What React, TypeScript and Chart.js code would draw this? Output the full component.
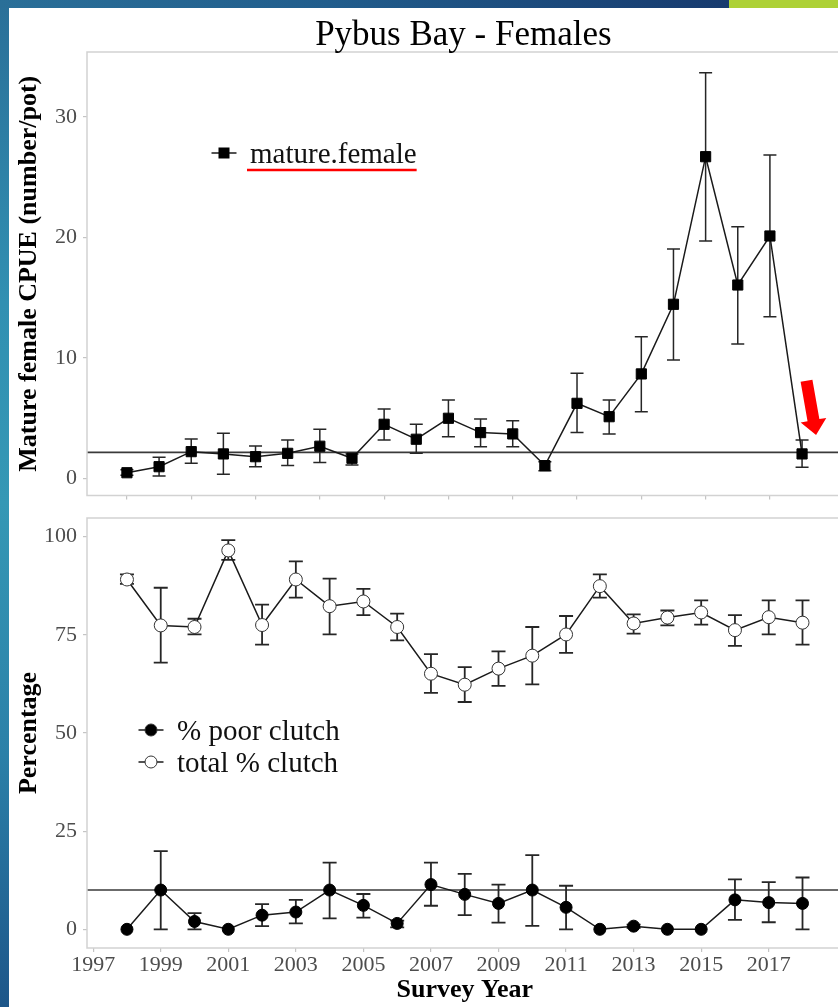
import React, { useEffect, useRef } from "react";
import { Chart, registerables } from "chart.js";

Chart.register(...registerables);

// ---------------- data ----------------
const femaleYears = [1997, 1998, 1999, 2000, 2001, 2002, 2003, 2004, 2005, 2006, 2007, 2008, 2009, 2010, 2011, 2012, 2013, 2014, 2015, 2016, 2017, 2018];
const femaleCPUE = [0.46, 0.96, 2.21, 2.02, 1.79, 2.07, 2.66, 1.66, 4.48, 3.24, 4.98, 3.79, 3.68, 1.05, 6.22, 5.11, 8.66, 14.44, 26.69, 16.04, 20.11, 2.02];
const femaleUpper = [0.7, 1.74, 3.26, 3.73, 2.68, 3.18, 4.07, 2.02, 5.75, 4.48, 6.5, 4.92, 4.78, 1.38, 8.71, 6.5, 11.75, 19.03, 33.66, 20.88, 26.83, 3.18];
const femaleLower = [0.25, 0.19, 1.24, 0.33, 0.96, 1.05, 1.3, 1.1, 3.18, 2.07, 3.45, 2.62, 2.62, 0.63, 3.79, 3.68, 5.53, 9.82, 19.69, 11.15, 13.41, 0.91];
const femaleReference = 2.15;

const clutchYears = [1998, 1999, 2000, 2001, 2002, 2003, 2004, 2005, 2006, 2007, 2008, 2009, 2010, 2011, 2012, 2013, 2014, 2015, 2016, 2017, 2018];
const totalClutch = [89.1, 77.4, 77.0, 96.5, 77.5, 89.1, 82.3, 83.5, 77.0, 65.1, 62.3, 66.4, 69.7, 75.1, 87.4, 77.9, 79.4, 80.7, 76.2, 79.5, 78.1];
const totalUpper = [90.4, 87.0, 79.1, 99.1, 82.7, 93.7, 89.3, 86.7, 80.4, 70.1, 66.8, 70.8, 77.0, 79.8, 90.4, 80.2, 81.2, 83.8, 80.0, 83.8, 83.8];
const totalLower = [88.0, 67.9, 75.1, 94.1, 72.5, 84.5, 75.1, 80.0, 73.6, 60.2, 57.9, 62.0, 62.4, 70.4, 84.5, 75.3, 77.4, 77.6, 72.2, 75.1, 72.5];
const poorClutch = [0, 10.0, 2.0, 0, 3.6, 4.4, 10.0, 6.1, 1.5, 11.4, 8.9, 6.6, 10.0, 5.6, 0, 0.8, 0, 0, 7.5, 6.8, 6.6];
const poorUpper = [0, 19.9, 4.1, 0, 6.4, 7.5, 17.0, 9.0, 2.2, 17.0, 14.1, 11.4, 18.9, 11.1, 0, 1.2, 0, 0, 12.7, 12.0, 13.2];
const poorLower = [0, 0, 0, 0, 0.8, 1.5, 2.8, 3.0, 0.5, 6.0, 3.6, 1.7, 0.9, 0, 0, 0.4, 0, 0, 2.4, 1.8, 0];
const clutchReference = 10;

const xTickYears = [1997, 1999, 2001, 2003, 2005, 2007, 2009, 2011, 2013, 2015, 2017];
const cpueTicks = [0, 10, 20, 30];
const percentTicks = [0, 25, 50, 75, 100];

const chartTitle = "Pybus Bay - Females";
const cpueAxisTitle = "Mature female CPUE (number/pot)";
const percentAxisTitle = "Percentage";
const xAxisTitle = "Survey Year";
const femaleLabel = "mature.female";
const poorLabel = "% poor clutch";
const totalLabel = "total % clutch";

// ---------------- styles ----------------
const FONT = "'Liberation Serif', 'Times New Roman', serif";
const TICK_COLOR = "#4d4d4d";
const TICK_MARK = "#c4c4c4";
const FRAME = "#d2d2d2";
const LINE = "#1a1a1a";

type ErrSet = { xs: number[]; upper: number[]; lower: number[] };

function errorBarPlugin(sets: ErrSet[], cap: number, width: number) {
  return {
    id: "errorBars",
    beforeDatasetsDraw(chart: any) {
      const { ctx, scales } = chart;
      const x = scales.x, y = scales.y;
      ctx.save();
      ctx.strokeStyle = "#262626";
      ctx.lineWidth = width;
      sets.forEach((s) => {
        s.xs.forEach((xv, i) => {
          const hi = s.upper[i], lo = s.lower[i];
          if (hi - lo < 1e-9) return;
          const px = x.getPixelForValue(xv);
          const pt = y.getPixelForValue(hi);
          const pb = y.getPixelForValue(lo);
          ctx.beginPath();
          ctx.moveTo(px, pt); ctx.lineTo(px, pb);
          ctx.moveTo(px - cap, pt); ctx.lineTo(px + cap, pt);
          ctx.moveTo(px - cap, pb); ctx.lineTo(px + cap, pb);
          ctx.stroke();
        });
      });
      ctx.restore();
    },
  };
}

function refLinePlugin(value: number) {
  return {
    id: "refLine",
    beforeDatasetsDraw(chart: any) {
      const { ctx, chartArea, scales } = chart;
      const py = scales.y.getPixelForValue(value);
      ctx.save();
      ctx.strokeStyle = "#3a3a3a";
      ctx.lineWidth = 1.6;
      ctx.beginPath();
      ctx.moveTo(chartArea.left, py);
      ctx.lineTo(chartArea.right, py);
      ctx.stroke();
      ctx.restore();
    },
  };
}

const framePlugin = {
  id: "frame",
  afterDraw(chart: any) {
    const { ctx, chartArea } = chart;
    ctx.save();
    ctx.strokeStyle = FRAME;
    ctx.lineWidth = 1.5;
    ctx.strokeRect(chartArea.left, chartArea.top, chartArea.right - chartArea.left, chartArea.bottom - chartArea.top);
    ctx.restore();
  },
};

type LegendItem = { label: string; marker: "rect" | "filled" | "open"; underline?: boolean };

function legendPlugin(items: LegendItem[], dx: number, dy: number, rowH: number) {
  return {
    id: "customLegend",
    afterDraw(chart: any) {
      const { ctx, chartArea } = chart;
      ctx.save();
      items.forEach((it, i) => {
        const mx = chartArea.left + dx;
        const base = chartArea.top + dy + i * rowH;
        const my = base - 10;
        ctx.strokeStyle = LINE;
        ctx.lineWidth = 1.5;
        ctx.beginPath();
        ctx.moveTo(mx - 12.5, my);
        ctx.lineTo(mx + 12.5, my);
        ctx.stroke();
        if (it.marker === "rect") {
          ctx.fillStyle = "#000";
          ctx.fillRect(mx - 5.5, my - 5.5, 11, 11);
        } else {
          ctx.beginPath();
          ctx.arc(mx, my, 6, 0, Math.PI * 2);
          ctx.fillStyle = it.marker === "filled" ? "#000" : "#fff";
          ctx.fill();
          ctx.lineWidth = 1;
          ctx.strokeStyle = "#333";
          ctx.stroke();
        }
        ctx.font = `29px ${FONT}`;
        ctx.fillStyle = "#111";
        ctx.textAlign = "left";
        ctx.textBaseline = "alphabetic";
        const tx = mx + 26;
        ctx.fillText(it.label, tx, base);
        if (it.underline) {
          const w = ctx.measureText(it.label).width;
          ctx.strokeStyle = "#ff0000";
          ctx.lineWidth = 2.6;
          ctx.beginPath();
          ctx.moveTo(tx - 3, base + 7);
          ctx.lineTo(tx + w, base + 7);
          ctx.stroke();
        }
      });
      ctx.restore();
    },
  };
}

const titlePlugin = {
  id: "pageTitle",
  afterDraw(chart: any) {
    const { ctx, chartArea } = chart;
    ctx.save();
    ctx.font = `35px ${FONT}`;
    ctx.fillStyle = "#000";
    ctx.textAlign = "center";
    ctx.textBaseline = "alphabetic";
    ctx.fillText(chartTitle, (chartArea.left + chartArea.right) / 2 - 1, chartArea.top - 7);
    ctx.restore();
  },
};

// red annotation arrow pointing at the latest survey year
const arrowPlugin = {
  id: "redArrow",
  afterDraw(chart: any) {
    const { ctx, scales } = chart;
    const last = femaleYears.length - 1;
    const px = scales.x.getPixelForValue(femaleYears[last]);
    const py = scales.y.getPixelForValue(femaleCPUE[last]);
    const tipX = px + 14, tipY = py - 19;
    const ang = (10 * Math.PI) / 180;
    const dx = Math.sin(ang), dy = Math.cos(ang);
    const nx = dy, ny = -dx; // perpendicular
    const len = 55, headLen = 15, shaftW = 6, headW = 13;
    const bx = tipX - dx * headLen, by = tipY - dy * headLen;
    const tx = tipX - dx * len, ty = tipY - dy * len;
    ctx.save();
    ctx.fillStyle = "#ff0000";
    ctx.beginPath();
    ctx.moveTo(tx + nx * shaftW, ty + ny * shaftW);
    ctx.lineTo(bx + nx * shaftW, by + ny * shaftW);
    ctx.lineTo(bx + nx * headW, by + ny * headW);
    ctx.lineTo(tipX, tipY);
    ctx.lineTo(bx - nx * headW, by - ny * headW);
    ctx.lineTo(bx - nx * shaftW, by - ny * shaftW);
    ctx.lineTo(tx - nx * shaftW, ty - ny * shaftW);
    ctx.closePath();
    ctx.fill();
    ctx.restore();
  },
};

function yScale(min: number, max: number, ticks: number[], title: string) {
  return {
    type: "linear",
    min,
    max,
    afterBuildTicks: (s: any) => {
      s.ticks = ticks.map((v) => ({ value: v }));
    },
    afterFit: (s: any) => {
      s.width = 87;
      s.paddingTop = 0;
      s.paddingBottom = 0;
      s.paddingLeft = 0;
      s.paddingRight = 0;
    },
    grid: { drawOnChartArea: false, drawTicks: true, tickLength: 4, color: TICK_MARK, lineWidth: 1.2 },
    border: { display: false },
    ticks: { color: TICK_COLOR, font: { family: FONT, size: 22 }, padding: 6 },
    title: {
      display: true,
      text: title,
      color: "#000",
      font: { family: FONT, size: 26, weight: "bold" },
      padding: { top: 14, bottom: 0 },
    },
  };
}

function xScale(min: number, max: number, height: number, showLabels: boolean) {
  return {
    type: "linear",
    min,
    max,
    afterBuildTicks: (s: any) => {
      s.ticks = xTickYears.map((v) => ({ value: v }));
    },
    afterFit: (s: any) => {
      s.height = height;
      s.paddingTop = 0;
      s.paddingBottom = 0;
      s.paddingLeft = 0;
      s.paddingRight = 0;
    },
    grid: { drawOnChartArea: false, drawTicks: true, tickLength: 4, color: TICK_MARK, lineWidth: 1.2 },
    border: { display: false },
    ticks: {
      display: showLabels,
      color: TICK_COLOR,
      font: { family: FONT, size: 22 },
      padding: 0,
      maxRotation: 0,
      autoSkip: false,
      callback: (v: any) => String(v),
    },
    title: {
      display: showLabels,
      text: xAxisTitle,
      color: "#000",
      font: { family: FONT, size: 26, weight: "bold" },
      padding: { top: 0, bottom: 1.4 },
    },
  };
}

export default function App() {
  const topRef = useRef<HTMLCanvasElement | null>(null);
  const botRef = useRef<HTMLCanvasElement | null>(null);

  useEffect(() => {
    const top = new Chart(topRef.current as HTMLCanvasElement, {
      type: "line",
      data: {
        datasets: [
          {
            label: femaleLabel,
            data: femaleYears.map((x, i) => ({ x, y: femaleCPUE[i] })),
            borderColor: LINE,
            borderWidth: 1.5,
            pointStyle: "rect",
            pointRadius: 7.2,
            pointBackgroundColor: "#000",
            pointBorderColor: "#000",
            pointBorderWidth: 1,
            tension: 0,
          },
        ],
      },
      options: {
        animation: false,
        responsive: false,
        maintainAspectRatio: false,
        events: [],
        layout: { padding: { top: 52, right: 7, left: 0, bottom: 0 } },
        plugins: { legend: { display: false }, tooltip: { enabled: false } },
        scales: {
          x: xScale(1995.758, 2019.236, 9.5, false),
          y: yScale(-1.43, 35.38, cpueTicks, cpueAxisTitle),
        },
      } as any,
      plugins: [
        refLinePlugin(femaleReference),
        errorBarPlugin([{ xs: femaleYears, upper: femaleUpper, lower: femaleLower }], 6.5, 1.5),
        framePlugin,
        legendPlugin([{ label: femaleLabel, marker: "rect", underline: true }], 137, 111, 0),
        titlePlugin,
        arrowPlugin,
      ],
    } as any);

    const bottom = new Chart(botRef.current as HTMLCanvasElement, {
      type: "line",
      data: {
        datasets: [
          {
            label: poorLabel,
            data: clutchYears.map((x, i) => ({ x, y: poorClutch[i] })),
            borderColor: LINE,
            borderWidth: 1.5,
            pointStyle: "circle",
            pointRadius: 6,
            pointBackgroundColor: "#000",
            pointBorderColor: "#000",
            pointBorderWidth: 1,
            tension: 0,
          },
          {
            label: totalLabel,
            data: clutchYears.map((x, i) => ({ x, y: totalClutch[i] })),
            borderColor: LINE,
            borderWidth: 1.5,
            pointStyle: "circle",
            pointRadius: 6.5,
            pointBackgroundColor: "#fff",
            pointBorderColor: "#333",
            pointBorderWidth: 1,
            tension: 0,
          },
        ],
      },
      options: {
        animation: false,
        responsive: false,
        maintainAspectRatio: false,
        events: [],
        layout: { padding: { top: 13, right: 7, left: 0, bottom: 0 } },
        plugins: { legend: { display: false }, tooltip: { enabled: false } },
        scales: {
          x: xScale(1996.817, 2019.184, 59, true),
          y: yScale(-4.76, 104.76, percentTicks, percentAxisTitle),
        },
      } as any,
      plugins: [
        refLinePlugin(clutchReference),
        errorBarPlugin(
          [
            { xs: clutchYears, upper: poorUpper, lower: poorLower },
            { xs: clutchYears, upper: totalUpper, lower: totalLower },
          ],
          7,
          1.8
        ),
        framePlugin,
        legendPlugin(
          [
            { label: poorLabel, marker: "filled" },
            { label: totalLabel, marker: "open" },
          ],
          64,
          222,
          32
        ),
      ],
    } as any);

    return () => {
      top.destroy();
      bottom.destroy();
    };
  }, []);

  return (
    <div
      style={{
        position: "fixed",
        left: 0,
        top: 0,
        width: 838,
        height: 1007,
        overflow: "hidden",
        background: "#ffffff",
      }}
    >
      <canvas
        ref={topRef}
        width={850}
        height={505}
        style={{ position: "absolute", left: 0, top: 0, width: 850, height: 505 }}
      />
      <canvas
        ref={botRef}
        width={850}
        height={502}
        style={{ position: "absolute", left: 0, top: 505, width: 850, height: 502 }}
      />
      <div
        style={{
          position: "absolute",
          left: 0,
          top: 0,
          width: 8.5,
          height: 1007,
          background:
            "linear-gradient(to bottom, #2a6f98 0%, #3190b2 30%, #3598b5 50%, #2b80a8 75%, #1d5689 100%)",
        }}
      />
      <div
        style={{
          position: "absolute",
          left: 0,
          top: 0,
          width: 729,
          height: 8,
          background: "linear-gradient(to right, #2a6f98 0%, #215d8c 45%, #173a6e 100%)",
        }}
      />
      <div
        style={{
          position: "absolute",
          left: 729,
          top: 0,
          width: 109,
          height: 8,
          background: "#add136",
        }}
      />
    </div>
  );
}
